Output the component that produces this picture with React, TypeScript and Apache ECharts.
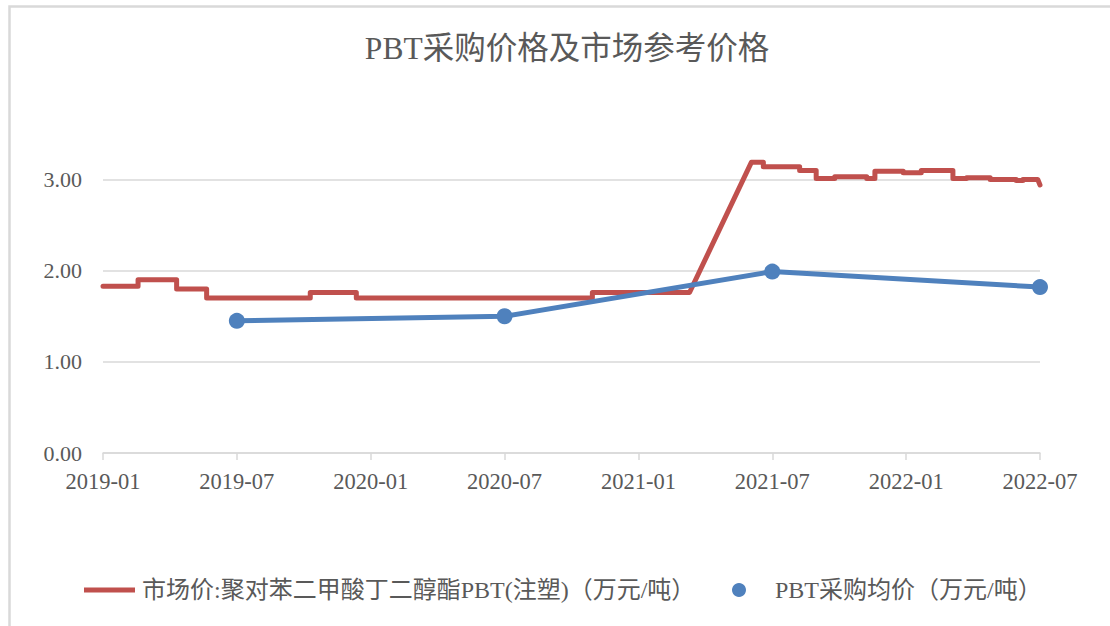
import React, { useEffect, useRef } from "react";
import * as echarts from "echarts";

const TITLE = "PBT采购价格及市场参考价格";
const MARKET_NAME = "市场价:聚对苯二甲酸丁二醇酯PBT(注塑)（万元/吨）";
const PURCHASE_NAME = "PBT采购均价（万元/吨）";

// Market reference price (step-like weekly quotes): vertices of the line
const marketDates = [
  "2019-01-01", "2019-02-17", "2019-02-17", "2019-04-10", "2019-04-10",
  "2019-05-21", "2019-05-21", "2019-10-10", "2019-10-10", "2019-12-12",
  "2019-12-12", "2020-10-30", "2020-10-30", "2021-03-10", "2021-06-03",
  "2021-06-19", "2021-06-19", "2021-08-08", "2021-08-08", "2021-08-31",
  "2021-08-31", "2021-09-25", "2021-09-25", "2021-11-08", "2021-11-08",
  "2021-11-19", "2021-11-19", "2021-12-28", "2021-12-28", "2022-01-22",
  "2022-01-22", "2022-03-04", "2022-03-04", "2022-03-23", "2022-03-23",
  "2022-04-24", "2022-04-24", "2022-05-30", "2022-05-30", "2022-06-08",
  "2022-06-08", "2022-06-28", "2022-07-01",
];
const marketValues = [
  1.83, 1.83, 1.9, 1.9, 1.8,
  1.8, 1.7, 1.7, 1.76, 1.76,
  1.7, 1.7, 1.76, 1.76, 3.19,
  3.19, 3.14, 3.14, 3.1, 3.1,
  3.01, 3.01, 3.03, 3.03, 3.01,
  3.01, 3.09, 3.09, 3.075, 3.075,
  3.1, 3.1, 3.01, 3.01, 3.02,
  3.02, 3.0, 3.0, 2.99, 2.99,
  3.0, 3.0, 2.94,
];

// Purchase average price
const purchaseDates = ["2019-07-01", "2020-07-01", "2021-07-01", "2022-07-01"];
const purchaseValues = [1.45, 1.5, 1.99, 1.82];

const START_YEAR = 2019;
const X_MAX_MONTHS = 42; // 2019-01 .. 2022-07
const X_TICK_MONTHS = 6;
const Y_MAX = 3;
const Y_TICK = 1;

const RED = "#C0504D";
const BLUE = "#4F81BD";
const TEXT = "#595959";
const GRID = "#D9D9D9";
const FONT = "'Liberation Serif', 'Noto Sans CJK SC', serif";

function toMonthIndex(s: string): number {
  const [y, m, d] = s.split("-").map(Number);
  const dim = new Date(y, m, 0).getDate();
  return (y - START_YEAR) * 12 + (m - 1) + (d - 1) / dim;
}

function monthLabel(v: number): string {
  const idx = Math.round(v);
  const y = START_YEAR + Math.floor(idx / 12);
  const m = (idx % 12) + 1;
  return `${y}-${m < 10 ? "0" + m : m}`;
}

export default function App() {
  const ref = useRef<HTMLDivElement>(null);

  useEffect(() => {
    if (!ref.current) return;
    const chart = echarts.init(ref.current, undefined, { renderer: "svg" });
    const marketData = marketDates.map((d, i) => [toMonthIndex(d), marketValues[i]]);
    const purchaseData = purchaseDates.map((d, i) => [toMonthIndex(d), purchaseValues[i]]);

    chart.setOption({
      animation: false,
      backgroundColor: "#ffffff",
      title: {
        text: TITLE,
        left: 562,
        top: 28,
        textAlign: "center",
        textStyle: { fontFamily: FONT, fontSize: 31.5, fontWeight: "normal", color: TEXT },
      },
      graphic: [
        {
          type: "rect",
          shape: { x: 9.5, y: 6.5, width: 1200, height: 700 },
          style: { fill: "none", stroke: GRID, lineWidth: 2.5 },
          silent: true,
        },
      ],
      legend: [
        {
          left: 79,
          top: 573,
          itemWidth: 51,
          itemHeight: 5,
          icon: "rect",
          data: [{ name: MARKET_NAME, itemStyle: { color: RED } }],
          textStyle: { fontFamily: FONT, fontSize: 24, color: TEXT, padding: [0, 0, 0, 2] },
        },
        {
          left: 727,
          top: 573,
          itemWidth: 14,
          itemHeight: 14,
          icon: "circle",
          data: [{ name: PURCHASE_NAME, itemStyle: { color: BLUE } }],
          textStyle: { fontFamily: FONT, fontSize: 24, color: TEXT, padding: [0, 0, 0, 24] },
        },
      ],
      grid: { left: 103, right: 70, top: 179.5, bottom: 173, containLabel: false, outerBoundsMode: "none" },
      xAxis: {
        type: "value",
        min: 0,
        max: X_MAX_MONTHS,
        interval: X_TICK_MONTHS,
        axisLine: { show: true, lineStyle: { color: GRID, width: 1.5 } },
        axisTick: { show: true, length: 7, lineStyle: { color: GRID, width: 1.5 } },
        splitLine: { show: false },
        axisLabel: {
          margin: 17,
          fontFamily: FONT,
          fontSize: 22.5,
          color: TEXT,
          formatter: (v: number) => monthLabel(v),
        },
      },
      yAxis: {
        type: "value",
        min: 0,
        max: Y_MAX,
        interval: Y_TICK,
        axisLine: { show: false },
        axisTick: { show: false },
        splitLine: { show: true, lineStyle: { color: GRID, width: 1.5 } },
        axisLabel: {
          margin: 21,
          fontFamily: FONT,
          fontSize: 22,
          color: TEXT,
          formatter: (v: number) => v.toFixed(2),
        },
      },
      series: [
        {
          name: MARKET_NAME,
          type: "line",
          data: marketData,
          showSymbol: false,
          symbol: "none",
          clip: false,
          lineStyle: { color: RED, width: 5, cap: "round", join: "round" },
          itemStyle: { color: RED },
          z: 2,
        },
        {
          name: PURCHASE_NAME,
          type: "line",
          data: purchaseData,
          symbol: "circle",
          symbolSize: 16,
          clip: false,
          lineStyle: { color: BLUE, width: 5, cap: "round", join: "round" },
          itemStyle: { color: BLUE },
          z: 3,
        },
      ],
    });
    return () => chart.dispose();
  }, []);

  return (
    <div
      ref={ref}
      style={{ position: "fixed", left: 0, top: 0, width: 1110, height: 626, background: "#fff" }}
    />
  );
}
